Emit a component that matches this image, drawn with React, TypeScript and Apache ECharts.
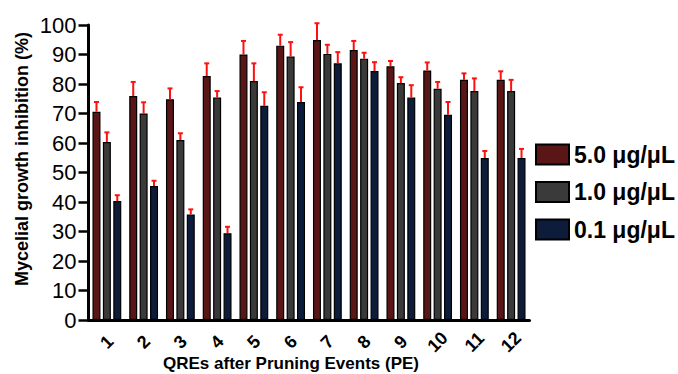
import React, { useEffect, useRef } from "react";
import * as echarts from "echarts";

const categories = ["1", "2", "3", "4", "5", "6", "7", "8", "9", "10", "11", "12"];
const seriesNames = ["5.0 μg/μL", "1.0 μg/μL", "0.1 μg/μL"];
const high = [70.6, 75.9, 74.8, 82.7, 90.0, 93.0, 94.9, 91.5, 86.0, 84.6, 81.4, 81.4];
const highErr = [3.3, 4.8, 3.7, 4.3, 4.6, 3.7, 5.7, 3.1, 1.8, 2.7, 2.2, 2.9];
const mid = [60.3, 70.0, 61.0, 75.4, 81.0, 89.3, 90.2, 88.6, 80.3, 78.4, 77.6, 77.6];
const midErr = [3.3, 3.8, 2.3, 2.2, 6.0, 4.9, 3.1, 2.0, 2.0, 2.3, 4.3, 3.8];
const low = [40.3, 45.4, 35.8, 29.4, 72.6, 73.9, 87.0, 84.4, 75.4, 69.6, 54.9, 54.9];
const lowErr = [2.0, 1.8, 1.7, 2.2, 4.6, 5.0, 3.8, 3.0, 4.2, 4.3, 2.4, 3.1];
const yTicks = { min: 0, max: 100, interval: 10 };

const FONT = 'Arial, "Liberation Sans", sans-serif';
const colors = ["#5a1616", "#3a3a3a", "#0c1c3a"];
const BAR_W = 8;
const GAP = 2.4;

export default function App() {
  const ref = useRef<HTMLDivElement>(null);
  useEffect(() => {
    if (!ref.current) return;
    const chart = echarts.init(ref.current, null, { renderer: "svg" });
    const values = [high, mid, low];
    const errs = [highErr, midErr, lowErr];
    const offsets = [-(BAR_W + GAP), 0, BAR_W + GAP];

    const barSeries = values.map((vals, i) => ({
      name: seriesNames[i],
      type: "bar",
      data: vals,
      barWidth: BAR_W,
      barGap: (GAP / BAR_W) * 100 + "%",
      itemStyle: { color: colors[i], borderColor: "#000", borderWidth: 1.2 },
      z: 2,
    }));

    const errSeries = values.map((vals, i) => ({
      name: seriesNames[i] + " err",
      type: "custom",
      z: 5,
      data: vals.map((v, j) => [j, v, errs[i][j]]),
      encode: { x: 0, y: 1 },
      renderItem: (params: any, api: any) => {
        const x = api.value(0);
        const v = api.value(1);
        const e = api.value(2);
        const base = api.coord([x, v]);
        const top = api.coord([x, v + e]);
        const cx = base[0] + offsets[i];
        return {
          type: "group",
          children: [
            { type: "line", shape: { x1: cx, y1: base[1], x2: cx, y2: top[1] }, style: { stroke: "#ff1010", lineWidth: 2 } },
            { type: "line", shape: { x1: cx - 2.5, y1: top[1], x2: cx + 2.5, y2: top[1] }, style: { stroke: "#ff1010", lineWidth: 2 } },
          ],
        };
      },
    }));

    chart.setOption({
      animation: false,
      backgroundColor: "#fff",
      grid: { left: 88.5, right: 148.5, top: 25, bottom: 54, containLabel: false },
      legend: {
        data: seriesNames,
        orient: "vertical",
        left: 535,
        top: 143,
        padding: 0,
        itemWidth: 33,
        itemHeight: 20,
        itemGap: 14.5,
        icon: "rect",
        textStyle: { fontFamily: FONT, fontWeight: "bold", fontSize: 23, color: "#000", lineHeight: 20 },
      },
      xAxis: {
        type: "category",
        data: categories,
        axisLine: { lineStyle: { color: "#000", width: 3 } },
        axisTick: { alignWithLabel: true, length: 7, lineStyle: { color: "#000", width: 2.5 } },
        axisLabel: {
          rotate: 45,
          align: "center",
          verticalAlign: "middle",
          margin: 22,
          fontFamily: FONT,
          fontWeight: "bold",
          fontSize: 18,
          color: "#000",
        },
      },
      yAxis: {
        type: "value",
        min: yTicks.min,
        max: yTicks.max,
        interval: yTicks.interval,
        splitLine: { show: false },
        axisLine: { show: true, lineStyle: { color: "#000", width: 3 } },
        axisTick: { show: true, length: 10, lineStyle: { color: "#000", width: 2.5 } },
        axisLabel: { margin: 12, fontFamily: FONT, fontSize: 22, color: "#000" },
      },
      graphic: [
        {
          type: "text",
          x: 22,
          y: 159,
          rotation: Math.PI / 2,
          style: {
            text: "Mycelial growth inhibition (%)",
            fontFamily: FONT,
            fontWeight: "bold",
            fontSize: 18,
            fill: "#000",
            align: "center",
            verticalAlign: "middle",
          },
        },
        {
          type: "text",
          x: 291,
          y: 363,
          style: {
            text: "QREs after Pruning Events (PE)",
            fontFamily: FONT,
            fontWeight: "bold",
            fontSize: 17,
            fill: "#000",
            align: "center",
            verticalAlign: "middle",
          },
        },
      ],
      series: [...barSeries, ...errSeries],
    });
    return () => chart.dispose();
  }, []);
  return <div ref={ref} style={{ position: "absolute", left: 0, top: 0, width: 678, height: 374 }} />;
}
